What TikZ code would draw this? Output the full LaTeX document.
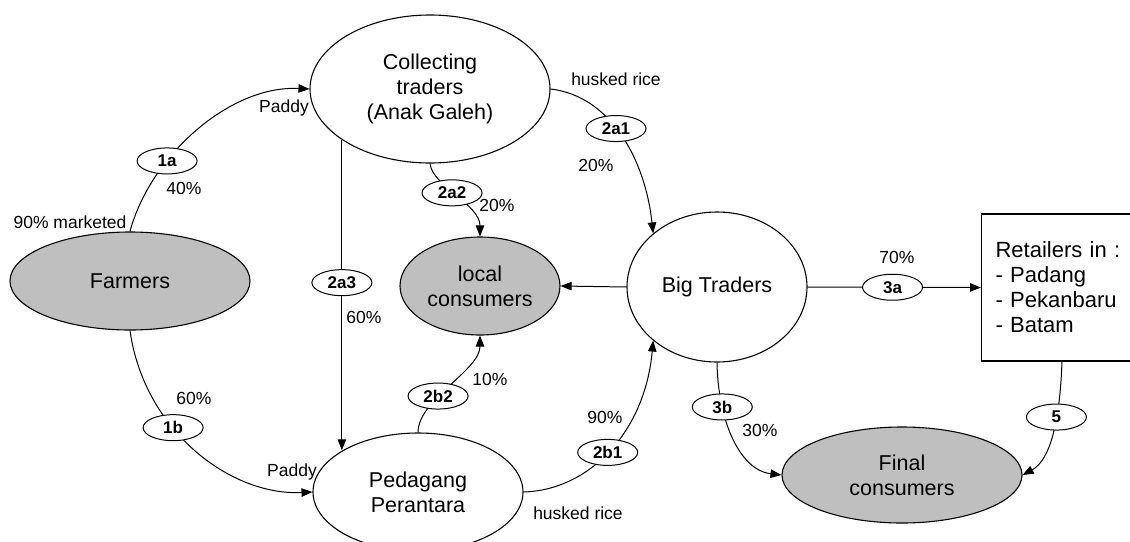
\documentclass[tikz,border=0pt]{standalone}
\usepackage{fontspec}
\setmainfont{Liberation Sans}
\usetikzlibrary{arrows.meta,shapes.geometric}
\definecolor{consumergray}{RGB}{191,191,191}
\begin{document}
\begin{tikzpicture}[x=1pt,y=-1pt,
  actor/.style={ellipse,draw,line width=1.1pt,inner sep=0pt,align=center,
    font=\fontsize{21.5}{25}\selectfont},
  market/.style={actor,fill=consumergray},
  tag/.style={ellipse,draw,fill=white,line width=1pt,minimum width=60pt,
    minimum height=26pt,inner sep=0pt,font=\fontsize{17}{18}\selectfont\bfseries},
  note/.style={inner sep=0pt,text height=12.5pt,text depth=0pt,
    font=\fontsize{17.5}{20}\selectfont},
  flow/.style={line width=1pt,-{Triangle[length=11pt,width=8.5pt]}},
]
\useasboundingbox (0,0) rectangle (1130,541);
\clip (0,0) rectangle (1130,541);

% actors of the rice marketing chain
\node[actor, minimum width=240pt, minimum height=148pt] (coll) at (430,89)
  {Collecting\\traders\\(Anak Galeh)};
\node[market, minimum width=240pt, minimum height=98pt] (farm) at (130,281) {Farmers};
\node[market, minimum width=160pt, minimum height=98pt] (local) at (480,286)
  {local\\consumers};
\node[actor, minimum width=180pt, minimum height=150pt] (big) at (717,287) {Big Traders};
\node[actor, minimum width=210pt, minimum height=118pt] (ped) at (418,492)
  {Pedagang\\Perantara};
\node[market, minimum width=240pt, minimum height=96pt] (final) at (902,475)
  {Final\\consumers};
% retailers box, running on past the right edge of the page
\node[draw, rectangle, line width=1.1pt, anchor=west, minimum height=147pt,
  text width=150pt, inner xsep=14pt, inner ysep=0pt, align=left,
  font=\fontsize{22}{25}\selectfont] (ret) at (981,287.5)
  {Retailers in :\\- Padang\\- Pekanbaru\\- Batam};
\coordinate (retfoot) at (1062,361);

% flows
\draw[flow] (farm.north) .. controls +(20,-75) and +(-80,-4) ..
  node[tag,pos=0.33] (t1a) {1a} (coll.west);
\draw[flow] (farm.south) .. controls +(14,100) and +(-82,4) ..
  node[tag,pos=0.38] (t1b) {1b} (ped.west);
\draw[flow] (coll.east) .. controls +(60,7) and +(-8,-74) ..
  node[tag,pos=0.45] (t2a1) {2a1} (big.140);
\draw[flow] (coll.south) .. controls +(2,22) and +(0,-32) ..
  node[tag,pos=0.45] (t2a2) {2a2} (local.north);
\draw[flow] (coll.210) -- node[tag,pos=0.46] (t2a3) {2a3} (coll.210 |- ped.151);
\draw[flow] (ped.north) .. controls +(0,-33) and +(0,35) ..
  node[tag,pos=0.38] (t2b2) {2b2} (local.south);
\draw[flow] (ped.east) .. controls +(67,-2) and +(-8,90) ..
  node[tag,pos=0.48] (t2b1) {2b1} (big.220);
\draw[flow] (big.west) -- (local.east);
\draw[flow] (big.east) -- node[tag,pos=0.49] (t3a) {3a} (ret.west);
\draw[flow] (big.south) .. controls +(1,58) and +(-42,-5) ..
  node[tag,pos=0.27] (t3b) {3b} (final.west);
\draw[flow] (retfoot) .. controls +(-2,59) and +(28,-15) ..
  node[tag,pos=0.36] (t5) {5} (final.east);

% shares and products
\node[note] (l90m) at (70,222) {90\% marketed};
\node[note] (l40) at (184,188) {40\%};
\node[note] (lpaddya) at (284,106) {Paddy};
\node[note] (lhuska) at (616,79) {husked rice};
\node[note] (l20a) at (596,165) {20\%};
\node[note] (l20b) at (497,205) {20\%};
\node[note] (l60a) at (364,317) {60\%};
\node[note] (l60b) at (194,398) {60\%};
\node[note] (lpaddyb) at (292,470) {Paddy};
\node[note] (l10) at (490,379) {10\%};
\node[note] (l90) at (605,417) {90\%};
\node[note] (lhuskb) at (578,513) {husked rice};
\node[note] (l30) at (760,430) {30\%};
\node[note] (l70) at (897,257) {70\%};
\end{tikzpicture}
\end{document}
